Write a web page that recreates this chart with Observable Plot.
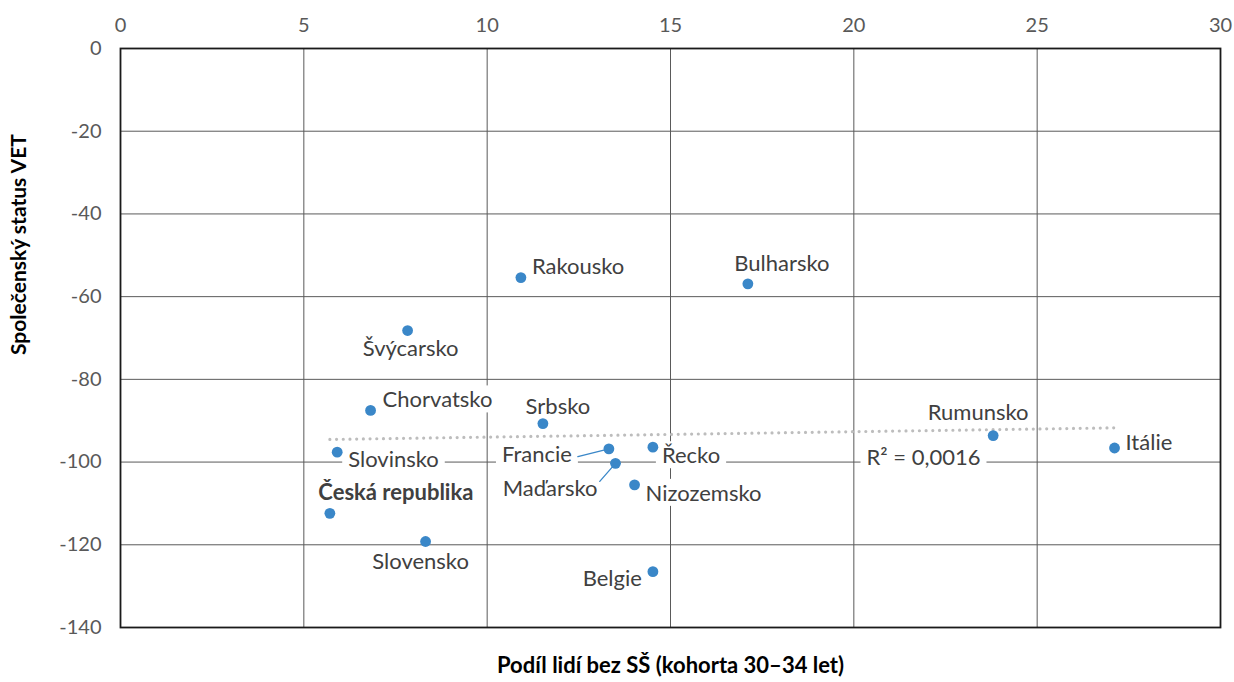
<!DOCTYPE html>
<html>
<head>
<meta charset="utf-8">
<script src="https://cdn.jsdelivr.net/npm/d3@7"></script>
<script src="https://cdn.jsdelivr.net/npm/@observablehq/plot@0.6"></script>
<style>
  html, body { margin: 0; padding: 0; background: #fff; }
  #chart svg { display: block; }
</style>
</head>
<body>
<div id="chart"></div>
<script>
// ---- data ----
const countries = ["Rakousko","Bulharsko","Švýcarsko","Chorvatsko","Srbsko","Rumunsko","Itálie","Slovinsko","Francie","Řecko","Maďarsko","Nizozemsko","Česká republika","Slovensko","Belgie"];
const shareNoUpperSecondary = [10.92, 17.11, 7.83, 6.82, 11.52, 23.8, 27.11, 5.91, 13.32, 14.52, 13.5, 14.02, 5.71, 8.32, 14.52];
const vetSocialStatus = [-55.4, -56.9, -68.2, -87.5, -90.7, -93.6, -96.6, -97.6, -96.8, -96.4, -100.3, -105.5, -112.4, -119.2, -126.5];
const xTicks = [0, 5, 10, 15, 20, 25, 30];
const yTicks = [0, -20, -40, -60, -80, -100, -120, -140];
const xTitle = "Podíl lidí bez SŠ (kohorta 30–34 let)";
const yTitle = "Společenský status VET";
const r2Label = "R² = 0,0016";
const r2Anchor = {x: 21.9, y: -99.0};

const data = countries.map((name, i) => ({name, x: shareNoUpperSecondary[i], y: vetSocialStatus[i]}));

// ---- label layout (styles) ----
const labelLayout = {
  "Rakousko":        {anchor: "start",  dx: 11,  dy: -11},
  "Bulharsko":       {anchor: "middle", dx: 34,  dy: -20},
  "Švýcarsko":       {anchor: "middle", dx: 3,   dy: 18},
  "Chorvatsko":      {anchor: "start",  dx: 12,  dy: -10},
  "Srbsko":          {anchor: "middle", dx: 15,  dy: -17},
  "Rumunsko":        {anchor: "middle", dx: -15, dy: -23},
  "Itálie":          {anchor: "start",  dx: 11,  dy: -5},
  "Slovinsko":       {anchor: "start",  dx: 11,  dy: 8},
  "Francie":         {anchor: "end",    dx: -37, dy: 6},
  "Řecko":           {anchor: "start",  dx: 9,   dy: 9},
  "Maďarsko":        {anchor: "end",    dx: -18, dy: 26},
  "Nizozemsko":      {anchor: "start",  dx: 11,  dy: 9},
  "Česká republika": {anchor: "middle", dx: 66,  dy: -20, bold: true},
  "Slovensko":       {anchor: "middle", dx: -5,  dy: 20},
  "Belgie":          {anchor: "end",    dx: -11, dy: 7}
};
const leaders = {
  "Francie":  {length: 32, rotate: 256},
  "Maďarsko": {length: 24, rotate: 221}
};

const FONT = "Lato, 'Open Sans', sans-serif";
const DOT = "#3a87c8";
const LABEL_SIZE = 22;

const lineShape = {draw(ctx, l) { ctx.moveTo(0, 0); ctx.lineTo(0, -l); }};

const labelMarks = countries.map(n => {
  const L = labelLayout[n];
  return Plot.text(data.filter(d => d.name === n), {
    x: "x", y: "y", text: "name",
    textAnchor: L.anchor, dx: L.dx, dy: L.dy,
    fontSize: LABEL_SIZE, fontWeight: L.bold ? "bold" : "normal",
    fill: "#404040", className: "boxed"
  });
});

const leaderMarks = Object.entries(leaders).map(([n, v]) =>
  Plot.vector(data.filter(d => d.name === n), {
    x: "x", y: "y", length: v.length, rotate: v.rotate,
    anchor: "start", shape: lineShape, stroke: DOT, strokeWidth: 1.3
  })
);

const fmt = d => String(d);

const chart = Plot.plot({
  width: 1234,
  height: 682,
  marginLeft: 120,
  marginRight: 14,
  marginTop: 48,
  marginBottom: 55,
  style: {fontFamily: FONT, background: "#fff"},
  x: {domain: [0, 30], ticks: xTicks, axis: null},
  y: {domain: [-140, 0], ticks: yTicks, axis: null},
  marks: [
    Plot.gridX(xTicks, {stroke: "#5a5a5a", strokeOpacity: 1, strokeWidth: 1}),
    Plot.gridY(yTicks, {stroke: "#5a5a5a", strokeOpacity: 1, strokeWidth: 1}),
    Plot.frame({stroke: "#1a1a1a", strokeWidth: 1.8}),
    Plot.axisX(xTicks, {anchor: "top", tickSize: 0, tickPadding: 17, fontSize: 20, color: "#595959", label: null, tickFormat: fmt}),
    Plot.axisY(yTicks, {anchor: "left", tickSize: 0, tickPadding: 19, fontSize: 20, color: "#595959", label: null, tickFormat: fmt}),
    ...labelMarks,
    Plot.text([r2Label], {x: () => r2Anchor.x, y: () => r2Anchor.y, text: d => d, fontSize: LABEL_SIZE, fill: "#404040", className: "boxed"}),
    Plot.linearRegressionY(data, {x: "x", y: "y", ci: 0, stroke: "#bdbdbd", strokeWidth: 3.2, strokeDasharray: "0 6.7", strokeLinecap: "round"}),
    ...leaderMarks,
    Plot.dot(data, {x: "x", y: "y", r: 5.4, fill: DOT, stroke: "none"}),
    Plot.text([xTitle], {frameAnchor: "bottom", dy: 45, text: d => d, fontSize: 22, fontWeight: "bold", fill: "#000"}),
    Plot.text([yTitle], {frameAnchor: "left", dx: -101, dy: 17, rotate: -90, text: d => d, fontSize: 21, fontWeight: "bold", fill: "#000"})
  ]
});
document.getElementById("chart").appendChild(chart);

// white label boxes behind data labels (sized from the rendered text)
chart.querySelectorAll("g.boxed text").forEach(t => {
  const b = t.getBBox();
  const padX = 6, padY = 0;
  const rect = document.createElementNS("http://www.w3.org/2000/svg", "rect");
  rect.setAttribute("x", b.x - padX);
  rect.setAttribute("y", b.y - padY);
  rect.setAttribute("width", b.width + 2 * padX);
  rect.setAttribute("height", b.height + 2 * padY);
  rect.setAttribute("fill", "#fff");
  rect.setAttribute("stroke", "none");
  const tr = t.getAttribute("transform");
  if (tr) rect.setAttribute("transform", tr);
  t.parentNode.insertBefore(rect, t);
});
</script>
</body>
</html>
